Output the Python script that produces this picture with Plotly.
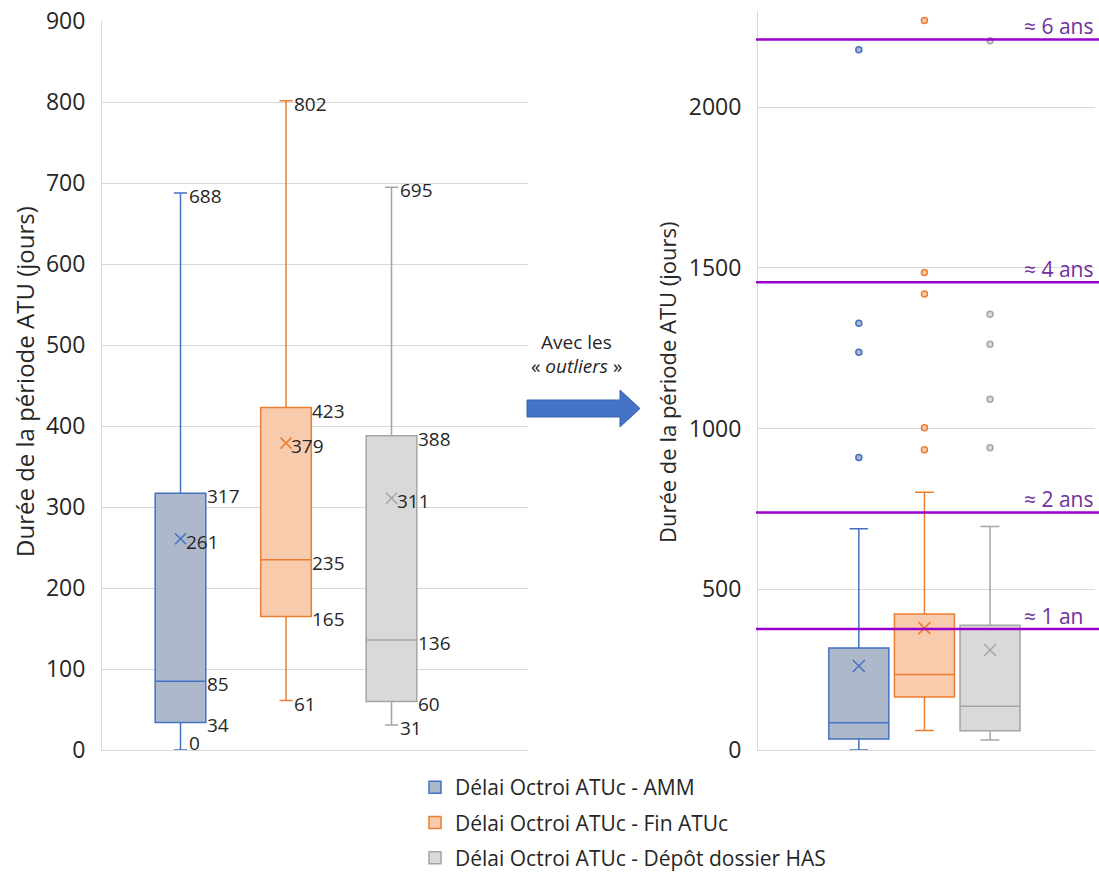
import plotly.graph_objects as go

# ---------------- data ----------------
SERIES = ["Délai Octroi ATUc - AMM", "Délai Octroi ATUc - Fin ATUc", "Délai Octroi ATUc - Dépôt dossier HAS"]
MINS = [0, 61, 31]
Q1S = [34, 165, 60]
MEDIANS = [85, 235, 136]
Q3S = [317, 423, 388]
MAXS = [688, 802, 695]
MEANS = [261, 379, 311]
OUTLIERS = [
    [2178, 1327, 1237, 910],
    [2269, 1485, 1418, 1002, 934],
    [2206, 1355, 1262, 1091, 940],
]
LEFT_TICKS = [0, 100, 200, 300, 400, 500, 600, 700, 800, 900]
RIGHT_TICKS = [0, 500, 1000, 1500, 2000]
REF_DAYS = [376, 739, 1455, 2210]
REF_LABELS = ["≈ 1 an", "≈ 2 ans", "≈ 4 ans", "≈ 6 ans"]
Y_TITLE = "Durée de la période ATU (jours)"

# ---------------- styles ----------------
FILLS = ["#ADB9CA", "#F8CBAD", "#D9D9D9"]
LINES = ["#4472C4", "#ED7D31", "#A5A5A5"]
PURPLE_LINE = "#9900CC"
PURPLE_TEXT = "#7030A0"
GRID = "#D9D9D9"
TXT = "#262626"
FONT = "Open Sans"

W, H = 1099, 873
def px(x):
    return x / W
def py(y):
    return 1 - y / H

LEFT_W = 0.48
RIGHT_W = 0.915

fig = go.Figure()

# left boxes (no outliers)
for i in range(3):
    fig.add_trace(go.Box(
        x=[i], q1=[Q1S[i]], median=[MEDIANS[i]], q3=[Q3S[i]],
        lowerfence=[MINS[i]], upperfence=[MAXS[i]],
        width=LEFT_W, whiskerwidth=0.26,
        fillcolor=FILLS[i], line=dict(color=LINES[i], width=1.5),
        name=SERIES[i], legendgroup="g%d" % i, showlegend=True,
        xaxis="x", yaxis="y", hoverinfo="skip",
    ))
    fig.add_trace(go.Scatter(
        x=[i], y=[MEANS[i]], mode="markers",
        marker=dict(symbol="x-thin-open", size=11, color=LINES[i],
                    line=dict(color=LINES[i], width=1.5)),
        showlegend=False, xaxis="x", yaxis="y", hoverinfo="skip",
    ))

# right boxes (with outliers)
for i in range(3):
    fig.add_trace(go.Box(
        x=[i], q1=[Q1S[i]], median=[MEDIANS[i]], q3=[Q3S[i]],
        lowerfence=[MINS[i]], upperfence=[MAXS[i]],
        width=RIGHT_W, whiskerwidth=0.31,
        fillcolor=FILLS[i], line=dict(color=LINES[i], width=1.5),
        name=SERIES[i], showlegend=False,
        xaxis="x2", yaxis="y2", hoverinfo="skip",
    ))
    fig.add_trace(go.Scatter(
        x=[i], y=[MEANS[i]], mode="markers",
        marker=dict(symbol="x-thin-open", size=12, color=LINES[i],
                    line=dict(color=LINES[i], width=1.5)),
        showlegend=False, xaxis="x2", yaxis="y2", hoverinfo="skip",
    ))
    fig.add_trace(go.Scatter(
        x=[i] * len(OUTLIERS[i]), y=OUTLIERS[i], mode="markers",
        marker=dict(symbol="circle", size=6, color=FILLS[i],
                    line=dict(color=LINES[i], width=1.5)),
        showlegend=False, xaxis="x2", yaxis="y2", hoverinfo="skip",
    ))

annotations = []
LBL = dict(size=19, color=TXT, family=FONT)
# data labels on left chart
for i in range(3):
    # whisker ends
    for v, ys in ((MAXS[i], 0), (MINS[i], 10 if MINS[i] == 0 else 0)):
        annotations.append(dict(x=i, y=v, xref="x", yref="y", text=str(v),
                                showarrow=False, xanchor="left", yanchor="middle",
                                xshift=6, yshift=ys - 3, font=LBL))
    # box values
    for v in (Q1S[i], MEDIANS[i], Q3S[i]):
        annotations.append(dict(x=i + LEFT_W / 2, y=v, xref="x", yref="y", text=str(v),
                                showarrow=False, xanchor="left", yanchor="middle",
                                xshift=-1, yshift=-3, font=LBL))
    # mean
    annotations.append(dict(x=i, y=MEANS[i], xref="x", yref="y", text=str(MEANS[i]),
                            showarrow=False, xanchor="left", yanchor="middle",
                            xshift=3, yshift=-3, font=LBL))

# y titles
annotations.append(dict(x=px(24), y=py(382), xref="paper", yref="paper", text=Y_TITLE,
                        textangle=-90, showarrow=False, xanchor="center", yanchor="middle",
                        font=dict(size=24, color=TXT, family=FONT)))
annotations.append(dict(x=px(667), y=py(382), xref="paper", yref="paper", text=Y_TITLE,
                        textangle=-90, showarrow=False, xanchor="center", yanchor="middle",
                        font=dict(size=22, color=TXT, family=FONT)))

# arrow text
annotations.append(dict(x=px(576), y=py(342), xref="paper", yref="paper", text="Avec les",
                        showarrow=False, xanchor="center", yanchor="middle",
                        font=dict(size=19, color=TXT, family=FONT)))
annotations.append(dict(x=px(576), y=py(366), xref="paper", yref="paper", text="« <i>outliers</i> »",
                        showarrow=False, xanchor="center", yanchor="middle",
                        font=dict(size=19, color=TXT, family=FONT)))

shapes = []
# reference lines on right chart
for v, t in zip(REF_DAYS, REF_LABELS):
    shapes.append(dict(type="line", xref="paper", yref="y2", x0=px(756), x1=px(1099),
                       y0=v, y1=v, line=dict(color=PURPLE_LINE, width=2.5), layer="above"))
    annotations.append(dict(x=px(1022), y=v, xref="paper", yref="y2", text=t,
                            showarrow=False, xanchor="left", yanchor="middle", yshift=13,
                            font=dict(size=21, color=PURPLE_TEXT, family=FONT)))

# block arrow
ax0, ax1, ax2 = 527, 620, 640
ay_b0, ay_b1, ay_h0, ay_h1 = 400, 417, 390, 427
path = "M {} {} L {} {} L {} {} L {} {} L {} {} L {} {} L {} {} Z".format(
    px(ax0), py(ay_b0), px(ax1), py(ay_b0), px(ax1), py(ay_h0),
    px(ax2), py((ay_h0 + ay_h1) / 2), px(ax1), py(ay_h1), px(ax1), py(ay_b1),
    px(ax0), py(ay_b1))
shapes.append(dict(type="path", xref="paper", yref="paper", path=path,
                   fillcolor="#4472C4", line=dict(color="#3A62AC", width=1)))

axis_common = dict(showgrid=False, zeroline=False, showticklabels=False, ticks="",
                   showline=True, linecolor=GRID, linewidth=1, fixedrange=True,
                   automargin=False)
yaxis_common = dict(showgrid=True, gridcolor=GRID, gridwidth=1, zeroline=False,
                    showline=True, linecolor=GRID, linewidth=1, ticks="",
                    tickfont=dict(size=23, color=TXT, family=FONT),
                    ticklabelstandoff=11, fixedrange=True, automargin=False)

fig.update_layout(
    width=W, height=H,
    margin=dict(l=0, r=0, t=0, b=0, autoexpand=False),
    paper_bgcolor="white", plot_bgcolor="white",
    font=dict(family=FONT, color=TXT),
    boxmode="overlay",
    xaxis=dict(domain=[px(102), px(527.5)], range=[-0.744, 3.289], **axis_common),
    yaxis=dict(domain=[py(750), py(21.3)], range=[0, 900], tickvals=LEFT_TICKS, **yaxis_common),
    xaxis2=dict(domain=[px(758), px(1095)], range=[-1.537, 3.60], anchor="y2", **axis_common),
    yaxis2=dict(domain=[py(750), py(10.55)], range=[0, 2300], tickvals=RIGHT_TICKS,
                anchor="x2", **yaxis_common),
    legend=dict(x=px(415), y=py(878), xanchor="left", yanchor="bottom",
                font=dict(size=21, color=TXT, family=FONT),
                tracegroupgap=5, bgcolor="rgba(0,0,0,0)"),
    annotations=annotations,
    shapes=shapes,
    showlegend=True,
)

fig.write_html("out.html", config={"displayModeBar": False},
               post_script="document.body.style.margin='0px';")
